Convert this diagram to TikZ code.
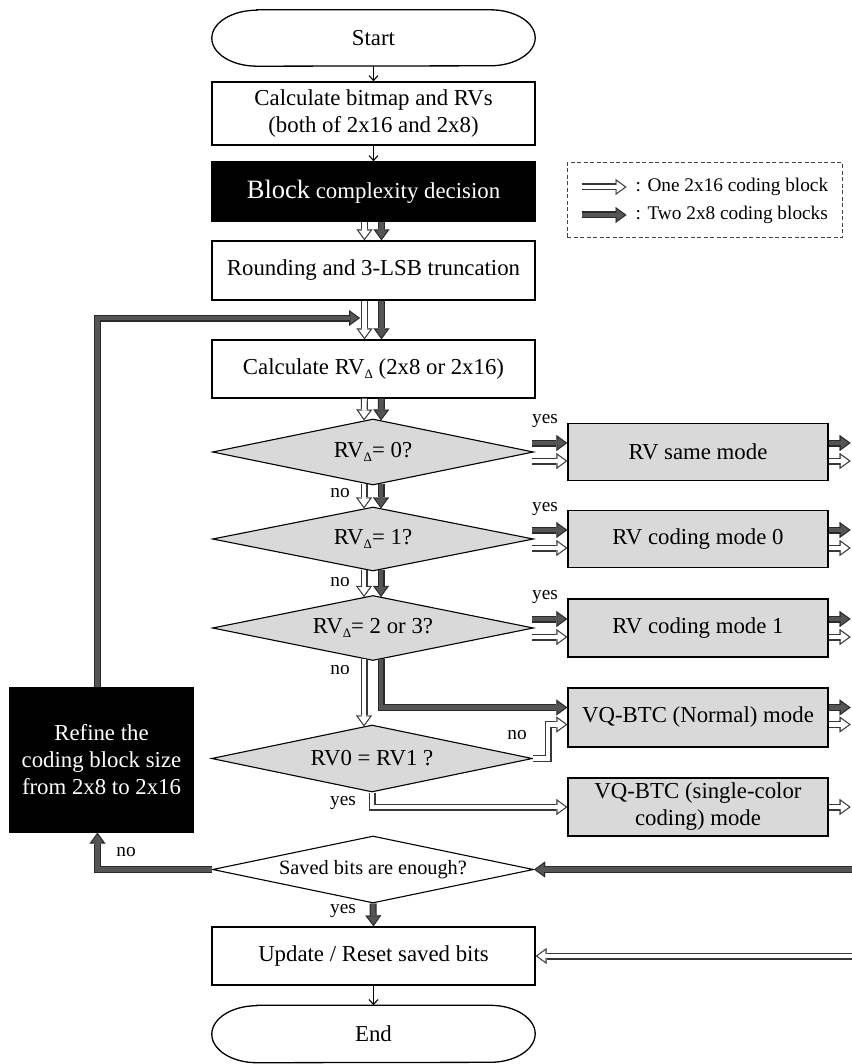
\documentclass[tikz,border=0pt]{standalone}
\usepackage{fontspec}
\setmainfont{Liberation Serif}
\usetikzlibrary{arrows.meta,calc,shapes.geometric}

\definecolor{boxgray}{HTML}{D9D9D9}
\definecolor{arrowdark}{HTML}{555555}
\definecolor{arrowedge}{HTML}{2A2A2A}
\definecolor{hollowedge}{HTML}{383838}
\definecolor{legendgray}{HTML}{444444}

% subscripted RV delta
\newcommand{\rvdelta}{RV\raisebox{-0.35ex}{\fontsize{13}{13}\selectfont Δ}}

% hollow (white) fat arrow: one 2x16 coding block
\newcommand{\hollowlink}[1]{%
  \draw[line width=7pt, draw=hollowedge,
        -{Triangle[length=11pt,width=16pt,line width=0.1pt]}] #1;
  \draw[line width=4.6pt, draw=white, shorten >=2pt,
        -{Triangle[length=7.8pt,width=11.3pt,line width=0.1pt]}] #1;}
% solid (dark) fat arrow: two 2x8 coding blocks
\newcommand{\solidlink}[1]{%
  \draw[line width=7pt, draw=arrowedge,
        -{Triangle[length=11pt,width=16pt,line width=0.1pt]}] #1;
  \draw[line width=4.6pt, draw=arrowdark, shorten >=2pt,
        -{Triangle[length=7.8pt,width=11.3pt,line width=0.1pt]}] #1;}

\tikzset{
  every node/.style={font=\fontsize{22.8}{27}\selectfont, align=center, inner sep=0pt},
  procbox/.style={draw, line width=1.3pt, minimum width=323pt, minimum height=#1},
  darkbox/.style={draw, fill=black, text=white, line width=1.3pt, minimum width=#1},
  modebox/.style={draw, fill=boxgray, line width=1.3pt, minimum width=260pt, minimum height=#1},
  decision/.style={diamond, draw, line width=1.1pt, fill=boxgray, aspect=5,
                   minimum width=321pt, minimum height=#1},
  terminal/.style={minimum width=323pt, minimum height=#1},
  lbl/.style={font=\fontsize{19.3}{22}\selectfont},
  thinlink/.style={draw, line width=1.1pt, -{Straight Barb[length=5pt,width=9pt]}},
}

\begin{document}
\begin{tikzpicture}[x=1pt, y=-1pt]
\useasboundingbox (0,0) rectangle (851,1064);

% ---- main column ----
\node[terminal=56pt] (start) at (373.5,38) {Start};
\draw[line width=1.3pt]
  ($(start.north west)+(45,0)$) -- ($(start.north east)+(-45,0)$)
  arc[start angle=90, end angle=-90, x radius=45pt, y radius=28pt]
  -- ($(start.south west)+(45,0)$)
  arc[start angle=270, end angle=90, x radius=45pt, y radius=28pt] -- cycle;

\node[procbox=63pt] (calc) at (373.5,113.5) {Calculate bitmap and RVs\\(both of 2x16 and 2x8)};
\node[darkbox=323pt, minimum height=59pt] (block) at (373.5,191.5)
  {{\fontsize{26.5}{30}\selectfont Block} complexity decision};
\node[procbox=59pt] (round) at (373.5,270.5) {Rounding and 3-LSB truncation};
\node[procbox=58pt] (rvd) at (373.5,369) {Calculate \rvdelta{} (2x8 or 2x16)};

\node[decision=66pt] (d1) at (373,452) {\rvdelta= 0?};
\node[decision=64pt] (d2) at (373,539) {\rvdelta= 1?};
\node[decision=65pt] (d3) at (373,628) {\rvdelta= 2 or 3?};
\node[decision=67pt] (d4) at (372,758.5) {RV0 = RV1 ?};
\node[decision=67pt, fill=white, font=\fontsize{20.3}{24}\selectfont] (d5) at (373,869.5) {Saved bits are enough?};

\node[procbox=58pt] (upd) at (373.5,956) {Update / Reset saved bits};
\node[terminal=57pt] (end) at (373.5,1034) {End};
\draw[line width=1.3pt]
  ($(end.north west)+(45,0)$) -- ($(end.north east)+(-45,0)$)
  arc[start angle=90, end angle=-90, x radius=45pt, y radius=28.5pt]
  -- ($(end.south west)+(45,0)$)
  arc[start angle=270, end angle=90, x radius=45pt, y radius=28.5pt] -- cycle;

% ---- coding modes ----
\node[modebox=57pt] (m1) at (698,452) {RV same mode};
\node[modebox=57pt] (m2) at (698,539) {RV coding mode 0};
\node[modebox=58pt] (m3) at (698,628) {RV coding mode 1};
\node[modebox=59pt] (m4) at (698,717.5) {VQ-BTC (Normal) mode};
\node[modebox=58pt] (m5) at (698,807) {VQ-BTC (single-color\\coding) mode};

% ---- refinement box ----
\node[darkbox=183pt, minimum height=144pt] (refine) at (101.5,760)
  {Refine the\\coding block size\\from 2x8 to 2x16};

% ---- legend ----
\node[draw=legendgray, dash pattern=on 4pt off 2.5pt, line width=1pt,
      minimum width=275pt, minimum height=75pt] (legend) at (704.5,200.5) {};
\hollowlink{($(legend.west)+(15,-13.5)$) -- ++(45,0)}
\solidlink{($(legend.west)+(15,14.5)$) -- ++(45,0)}
\node[lbl, anchor=west] (leg1) at ($(legend.west)+(69,-13.5)$) {: One 2x16 coding block};
\node[lbl, anchor=west] (leg2) at ($(legend.west)+(69,14.5)$) {: Two 2x8 coding blocks};

% ---- thin arrows ----
\draw[thinlink] (start.south) -- (calc.north);
\draw[thinlink] (calc.south) -- (block.north);
\draw[thinlink] (upd.south) -- (end.north);

% ---- paired flow arrows down the column ----
\hollowlink{($(block.south)+(-9,0)$) -- ($(round.north)+(-9,0)$)}
\solidlink{($(block.south)+(8,0)$) -- ($(round.north)+(8,0)$)}
\hollowlink{($(round.south)+(-9,0)$) -- ($(rvd.north)+(-9,0)$)}
\solidlink{($(round.south)+(8,0)$) -- ($(rvd.north)+(8,0)$)}
\hollowlink{($(rvd.south)+(-9,0)$) -- ($(d1.north)+(-9,2)$)}
\solidlink{($(rvd.south)+(8,0)$) -- ($(d1.north)+(8,2)$)}
\hollowlink{($(d1.south)+(-9,-2)$) -- ($(d2.north)+(-9,2)$)}
\solidlink{($(d1.south)+(8,-2)$) -- ($(d2.north)+(8,2)$)}
\hollowlink{($(d2.south)+(-9,-2)$) -- ($(d3.north)+(-9,2)$)}
\solidlink{($(d2.south)+(8,-2)$) -- ($(d3.north)+(8,2)$)}
\hollowlink{($(d3.south)+(-9,-2)$) -- ($(d4.north)+(-8,2)$)}
\solidlink{($(d3.south)+(8,-2)$) |- ($(m4.west)+(0,-10)$)}

% ---- yes branches to the RV modes ----
\solidlink{($(d1.east)+(-2,-9)$) -- ($(m1.west)+(0,-9)$)}
\hollowlink{($(d1.east)+(-2,9)$) -- ($(m1.west)+(0,9)$)}
\solidlink{($(d2.east)+(-2,-9)$) -- ($(m2.west)+(0,-9)$)}
\hollowlink{($(d2.east)+(-2,9)$) -- ($(m2.west)+(0,9)$)}
\solidlink{($(d3.east)+(-2,-9)$) -- ($(m3.west)+(0,-9)$)}
\hollowlink{($(d3.east)+(-2,9)$) -- ($(m3.west)+(0,9)$)}

% ---- VQ-BTC branches ----
\hollowlink{(d4.east) -- ++(15,0) |- ($(m4.west)+(0,7)$)}
\hollowlink{(d4.south) |- (m5.west)}

% ---- mode outputs ----
\solidlink{($(m1.east)+(0,-9)$) -- ++(22,0)}
\hollowlink{($(m1.east)+(0,9)$) -- ++(22,0)}
\solidlink{($(m2.east)+(0,-9)$) -- ++(22,0)}
\hollowlink{($(m2.east)+(0,9)$) -- ++(22,0)}
\solidlink{($(m3.east)+(0,-9)$) -- ++(22,0)}
\hollowlink{($(m3.east)+(0,9)$) -- ++(22,0)}
\solidlink{($(m4.east)+(0,-10)$) -- ++(22,0)}
\hollowlink{($(m4.east)+(0,7)$) -- ++(22,0)}
\hollowlink{(m5.east) -- ++(22,0)}

% ---- returns from the right ----
\coordinate (rin1) at (870,869.5);
\coordinate (rin2) at (870,956);
\solidlink{(rin1) -- (d5.east)}
\hollowlink{(rin2) -- (upd.east)}
\solidlink{(d5.south) -- (upd.north)}

% ---- refinement loop ----
\coordinate (loopin) at (360,318);
\solidlink{(d5.west) -| ($(refine.south)+(-4,0)$)}
\solidlink{($(refine.north)+(-4,0)$) |- (loopin)}

% ---- branch labels ----
\node[lbl] (y1) at (545,421) {yes};
\node[lbl] (y2) at (545,509) {yes};
\node[lbl] (y3) at (545,597) {yes};
\node[lbl] (n1) at (340,493) {no};
\node[lbl] (n2) at (340,582) {no};
\node[lbl] (n3) at (340,670) {no};
\node[lbl] (n4) at (517,735) {no};
\node[lbl] (y4) at (343,803) {yes};
\node[lbl] (y5) at (343,911) {yes};
\node[lbl] (n5) at (126,852) {no};
\end{tikzpicture}
\end{document}
